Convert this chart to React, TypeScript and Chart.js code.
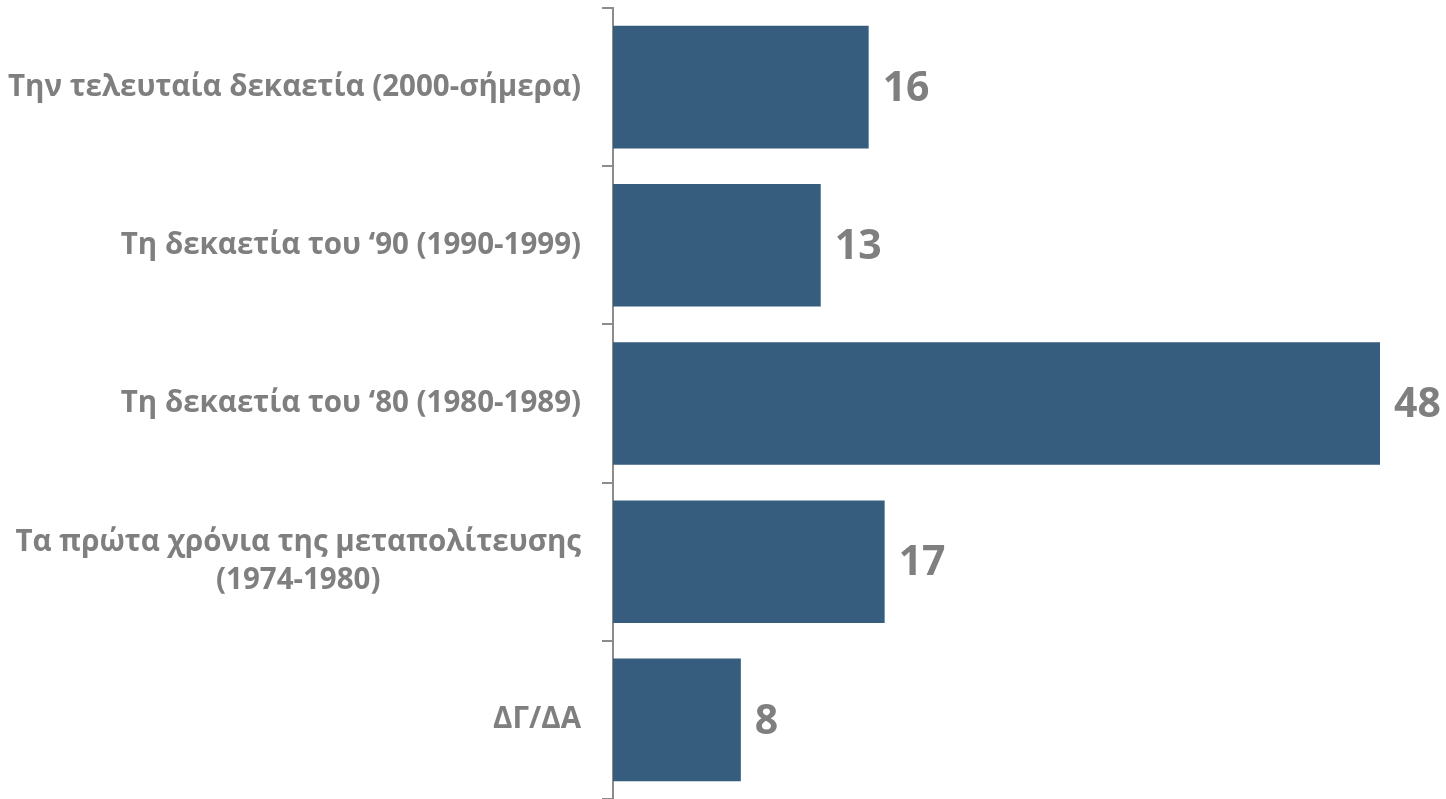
import React, { useEffect, useRef } from "react";
import { Chart, registerables } from "chart.js";

Chart.register(...registerables);

const categories: string[][] = [
  ["Την τελευταία δεκαετία (2000-σήμερα)"],
  ["Τη δεκαετία του ‘90 (1990-1999)"],
  ["Τη δεκαετία του ‘80 (1980-1989)"],
  ["Τα πρώτα χρόνια της μεταπολίτευσης", "(1974-1980)"],
  ["ΔΓ/ΔΑ"],
];
const values: number[] = [16, 13, 48, 17, 8];

const BAR_COLOR = "#365D7D";
const TEXT_COLOR = "#7F7F7F";
const AXIS_COLOR = "#8C8C8C";
const FONT = "'Open Sans', 'Noto Sans', sans-serif";

export default function App() {
  const ref = useRef<HTMLCanvasElement | null>(null);

  useEffect(() => {
    if (!ref.current) return;

    const labelPlugin = {
      id: "customLabels",
      afterDatasetsDraw(chart: any) {
        const ctx = chart.ctx;
        const meta = chart.getDatasetMeta(0);
        const yScale = chart.scales.y;
        ctx.save();
        // value labels
        ctx.font = `bold 41px ${FONT}`;
        ctx.fillStyle = TEXT_COLOR;
        ctx.textAlign = "left";
        ctx.textBaseline = "middle";
        meta.data.forEach((bar: any, i: number) => {
          ctx.fillText(String(values[i]), bar.x + 14, bar.y + 2);
        });
        // category labels
        ctx.font = `bold 29.5px ${FONT}`;
        ctx.textAlign = "center";
        const right = chart.chartArea.left - 32;
        const lh = 38;
        categories.forEach((lines, i) => {
          const y = yScale.getPixelForValue(i);
          const w = Math.max(...lines.map((l) => ctx.measureText(l).width));
          const cx = right - w / 2;
          const y0 = y - ((lines.length - 1) * lh) / 2;
          lines.forEach((l, j) => ctx.fillText(l, cx, y0 + j * lh));
        });
        ctx.restore();
      },
    };

    const chart = new Chart(ref.current, {
      type: "bar",
      data: {
        labels: categories.map((c) => c.join(" ")),
        datasets: [
          {
            data: values,
            backgroundColor: BAR_COLOR,
            borderWidth: 0,
            barPercentage: 0.775,
            categoryPercentage: 1,
          },
        ],
      },
      options: {
        indexAxis: "y",
        animation: false,
        responsive: true,
        maintainAspectRatio: false,
        layout: { padding: { top: 8, right: 66, bottom: 0, left: 0 } },
        plugins: {
          legend: { display: false },
          tooltip: { enabled: false },
        },
        scales: {
          x: {
            display: false,
            min: 0,
            max: Math.max(...values),
          },
          y: {
            grid: {
              display: true,
              drawOnChartArea: false,
              drawTicks: true,
              tickLength: 11,
              color: AXIS_COLOR,
              lineWidth: 2,
              offset: true,
            },
            border: { display: true, color: AXIS_COLOR, width: 2 },
            ticks: { display: false },
            afterFit: (scale: any) => {
              scale.width = 613;
            },
          },
        },
      },
      plugins: [labelPlugin],
    });
    return () => chart.destroy();
  }, []);

  return (
    <div style={{ position: "absolute", left: 0, top: 0, width: 1446, height: 799 }}>
      <canvas ref={ref} />
    </div>
  );
}
